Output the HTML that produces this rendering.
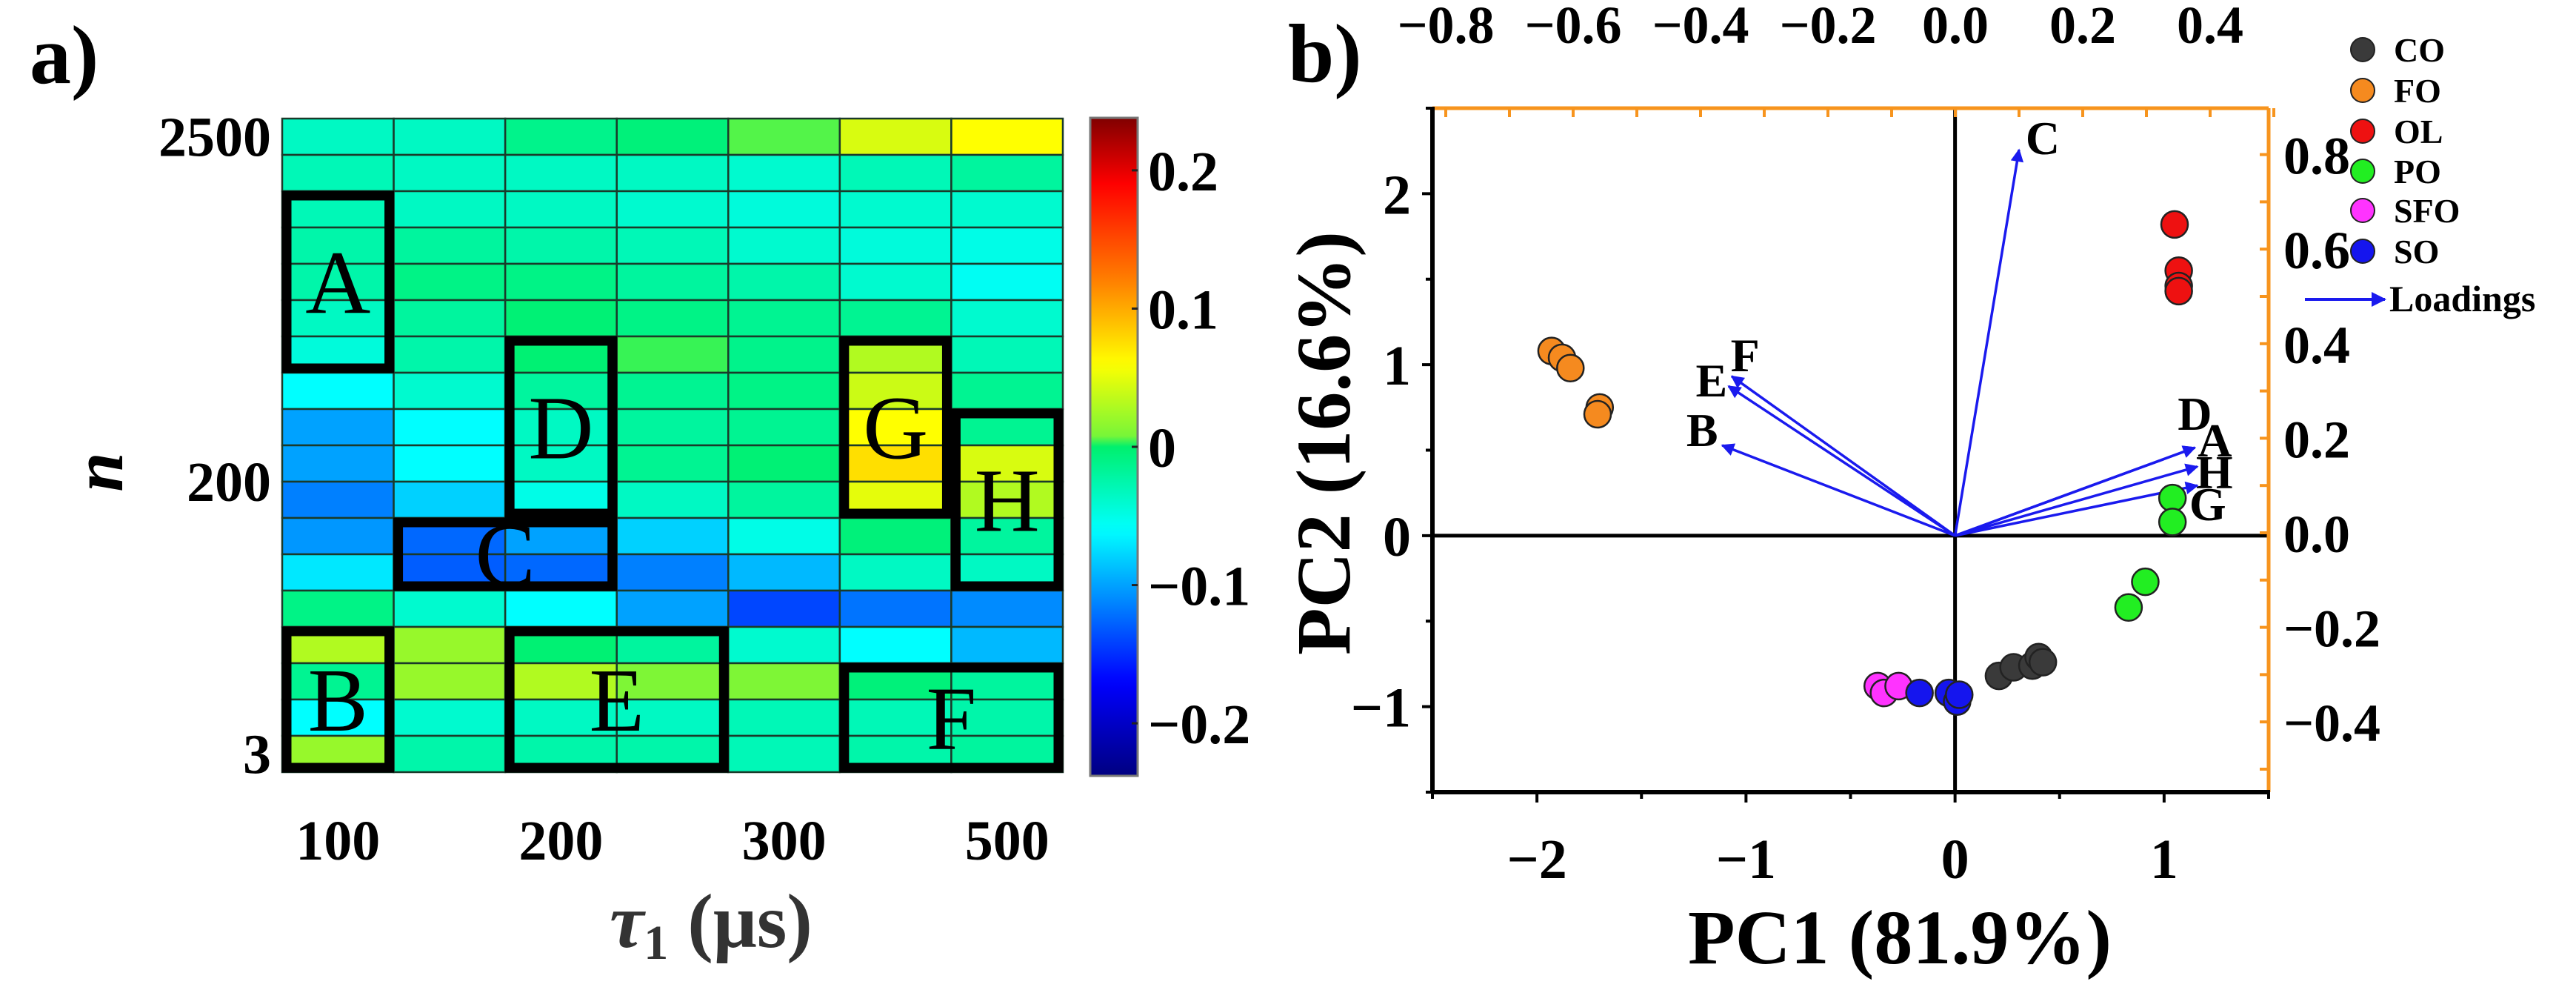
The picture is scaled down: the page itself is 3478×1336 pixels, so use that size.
<!DOCTYPE html>
<html><head><meta charset="utf-8"><style>
html,body{margin:0;padding:0;background:#fff;}
svg{display:block;font-family:"Liberation Serif",serif;}
</style></head><body>
<svg id="fig" width="3478" height="1336" viewBox="0 0 3478 1336" xmlns="http://www.w3.org/2000/svg">
<g id="pa"></g>
<g id="pb"></g>
</svg>
<script>
// ===== Panel a data =====
const tauLabels = ["100","","200","","300","","500"];
const nLabels = ["2500","200","3"];
const nLabelRows = [0, 9.5, 17];
const heatValues = [
[-0.035,-0.035,-0.012,-0.005,0.003,0.045,0.06],
[-0.03,-0.035,-0.035,-0.035,-0.04,-0.03,-0.02],
[-0.03,-0.035,-0.035,-0.04,-0.045,-0.04,-0.04],
[-0.025,-0.02,-0.025,-0.03,-0.04,-0.045,-0.05],
[-0.025,-0.01,-0.01,-0.02,-0.025,-0.04,-0.055],
[-0.035,-0.02,-0.003,-0.01,-0.015,-0.015,-0.04],
[-0.045,-0.025,-0.002,0.002,-0.012,0.03,-0.03],
[-0.06,-0.04,-0.02,-0.015,-0.01,0.04,-0.015],
[-0.1,-0.06,-0.035,-0.02,-0.015,0.06,-0.015],
[-0.1,-0.06,-0.035,-0.015,-0.003,0.075,0.045],
[-0.115,-0.08,-0.05,-0.035,-0.02,0.05,0.03],
[-0.105,-0.125,-0.1,-0.08,-0.05,-0.005,-0.02],
[-0.07,-0.13,-0.125,-0.115,-0.09,-0.035,-0.035],
[-0.01,-0.04,-0.06,-0.1,-0.14,-0.12,-0.11],
[0.03,0.02,-0.002,-0.02,-0.04,-0.06,-0.09],
[-0.015,0.02,0.03,0.01,0.01,-0.005,-0.02],
[-0.06,-0.04,-0.035,-0.035,-0.03,-0.03,-0.025],
[0.02,-0.025,-0.025,-0.025,-0.03,-0.025,-0.02]
];
const cbTicks = [0.2,0.1,0,-0.1,-0.2];
const cbTickLabels = ["0.2","0.1","0","\u22120.1","\u22120.2"];
const boxLabels = ["A","B","C","D","E","F","G","H"];
const boxCols = [[0,0],[0,0],[1,2],[2,2],[2,3],[5,6],[5,5],[6,6]];
const boxRows = [[2,6],[14,17],[11,12],[6,10],[14,17],[15,17],[6,10],[8,12]];

// ===== Panel b data =====
const groups = ["CO","FO","OL","PO","SFO","SO"];
const groupColors = ["#3a3a3a","#f58a1f","#ee1111","#22ee22","#ff33ff","#1515ee"];
const scoreX = [
[0.21,0.28,0.37,0.40,0.42],
[-1.93,-1.88,-1.84,-1.70,-1.71],
[1.05,1.07,1.07,1.07],
[1.04,1.04,0.91,0.83],
[-0.37,-0.34,-0.27],
[-0.17,-0.03,0.01,0.02]
];
const scoreY = [
[-0.82,-0.77,-0.76,-0.71,-0.74],
[1.08,1.04,0.98,0.75,0.71],
[1.82,1.55,1.46,1.43],
[0.22,0.08,-0.27,-0.42],
[-0.88,-0.92,-0.88],
[-0.92,-0.92,-0.97,-0.93]
];
const loadNames = ["C","F","E","B","D","A","H","G"];
const loadX = [0.10,-0.351,-0.356,-0.366,0.376,0.376,0.38,0.38];
const loadY = [0.81,0.331,0.31,0.185,0.18,0.18,0.14,0.10];
const pc1Ticks = [-2,-1,0,1];
const pc1TickLabels = ["\u22122","\u22121","0","1"];
const pc2Ticks = [-1,0,1,2];
const pc2TickLabels = ["\u22121","0","1","2"];
const topTicks = [-0.8,-0.6,-0.4,-0.2,0.0,0.2,0.4];
const topTickLabels = ["\u22120.8","\u22120.6","\u22120.4","\u22120.2","0.0","0.2","0.4"];
const rightTicks = [0.8,0.6,0.4,0.2,0.0,-0.2,-0.4];
const rightTickLabels = ["0.8","0.6","0.4","0.2","0.0","\u22120.2","\u22120.4"];

const NS="http://www.w3.org/2000/svg";
function mk(parent,tag,attrs,text){const e=document.createElementNS(NS,tag);for(const k in attrs)e.setAttribute(k,attrs[k]);if(text!==undefined)e.textContent=text;parent.appendChild(e);return e;}

const cmStops=[[-0.238,[0,0,128]],[-0.17,[0,0,255]],[-0.06,[0,255,255]],[0.0,[0,240,110]],[0.004,[110,245,60]],[0.06,[255,255,0]],[0.12,[255,128,0]],[0.19,[255,0,0]],[0.238,[128,0,0]]];
function cmap(v){
  if(v<=cmStops[0][0])return `rgb(${cmStops[0][1]})`;
  for(let i=1;i<cmStops.length;i++){
    if(v<=cmStops[i][0]){const a=cmStops[i-1],b=cmStops[i];const t=(v-a[0])/(b[0]-a[0]);
      const c=a[1].map((x,j)=>Math.round(x+(b[1][j]-x)*t));return `rgb(${c.join(',')})`;}
  }
  return `rgb(${cmStops[cmStops.length-1][1]})`;
}

// ===== Panel a =====
const pa=document.getElementById('pa');
const hx0=381,hx1=1435,hy0=160,hy1=1042;
const nCols=7,nRows=18;
const cw=(hx1-hx0)/nCols,rh=(hy1-hy0)/nRows;
const colX=c=>hx0+c*cw, rowY=r=>hy0+r*rh;
mk(pa,'text',{x:40,y:112,'font-size':112,'font-weight':'bold',},'a)');
heatValues.forEach((row,r)=>row.forEach((v,c)=>{
  const e=mk(pa,'rect',{x:colX(c),y:rowY(r),width:cw,height:rh,fill:cmap(v),stroke:'#1a3a2a','stroke-width':2.5});
  
  
}));
boxLabels.forEach((lab,i)=>{
  const x0=colX(boxCols[i][0]),x1=colX(boxCols[i][1]+1),y0=rowY(boxRows[i][0]),y1=rowY(boxRows[i][1]+1);
  const g=mk(pa,'g',{});
  
  
  mk(g,'rect',{x:x0+6,y:y0+6,width:x1-x0-12,height:y1-y0-12,fill:'none',stroke:'#000','stroke-width':13});
  mk(g,'text',{x:(x0+x1)/2,y:(y0+y1)/2+42,'text-anchor':'middle','font-size':122},lab);
});
nLabels.forEach((l,i)=>{
  const e=mk(pa,'text',{x:366,y:rowY(nLabelRows[i])+rh/2+26,'text-anchor':'end','font-size':76,'font-weight':'bold'},l);
  
  
});
tauLabels.forEach((l,i)=>{ if(!l)return;
  const e=mk(pa,'text',{x:colX(i)+cw/2,y:1160,'text-anchor':'middle','font-size':76,'font-weight':'bold'},l);
  
  
});
mk(pa,'text',{x:0,y:0,transform:'translate(165,637) rotate(-90)','text-anchor':'middle','font-size':96,'font-weight':'bold','font-style':'italic',},'n');
const xt=mk(pa,'text',{x:960,y:1278,'text-anchor':'middle','font-size':104,'font-weight':'bold',fill:'#333',});
mk(xt,'tspan',{'font-style':'italic'},'\u03c4');
mk(xt,'tspan',{'font-size':66,dy:16},'1');
mk(xt,'tspan',{dy:-16},' (\u03bcs)');
const cbx0=1472,cbx1=1536,cby0=159,cby1=1047,cbMin=-0.238,cbMax=0.238;
const cbY=v=>cby1-(v-cbMin)/(cbMax-cbMin)*(cby1-cby0);
const defs=mk(pa,'defs',{});
const lg=mk(defs,'linearGradient',{id:'cbg',x1:0,y1:1,x2:0,y2:0});
for(let i=0;i<=60;i++){const v=cbMin+(cbMax-cbMin)*i/60;mk(lg,'stop',{offset:i/60,'stop-color':cmap(v)});}
mk(pa,'rect',{x:cbx0,y:cby0,width:cbx1-cbx0,height:cby1-cby0,fill:'url(#cbg)',stroke:'#777','stroke-width':3,});
cbTicks.forEach((t,i)=>{
  mk(pa,'line',{x1:cbx1-8,x2:cbx1,y1:cbY(t),y2:cbY(t),stroke:'#222','stroke-width':3});
  const e=mk(pa,'text',{x:1550,y:cbY(t)+27,'font-size':76,'font-weight':'bold'},cbTickLabels[i]);
  
  
});

// ===== Panel b =====
const pb=document.getElementById('pb');
const bx0=1934,bx1=3063,by0=146,by1=1069;
const X=v=>bx0+(v+2.5)/4*(bx1-bx0);
const Y=v=>by1-(v+1.5)/4*(by1-by0);
const LX=v=>2640+v*860;
const LY=v=>719-v*638;
mk(pb,'text',{x:1739,y:110,'font-size':112,'font-weight':'bold',},'b)');
mk(pb,'line',{x1:bx0,x2:bx1,y1:Y(0),y2:Y(0),stroke:'#000','stroke-width':5,});
mk(pb,'line',{x1:X(0),x2:X(0),y1:by0,y2:by1,stroke:'#000','stroke-width':5,});
const orange='#f7941d';
mk(pb,'line',{x1:bx0,x2:bx1,y1:by0,y2:by0,stroke:orange,'stroke-width':5,});
mk(pb,'line',{x1:bx1,x2:bx1,y1:by0,y2:by1,stroke:orange,'stroke-width':5,});
mk(pb,'line',{x1:bx0,x2:bx0,y1:by0-2,y2:by1+2,stroke:'#000','stroke-width':6,});
mk(pb,'line',{x1:bx0-2,x2:bx1+2,y1:by1,y2:by1,stroke:'#000','stroke-width':6,});
for(let v=-2.5;v<=1.5001;v+=0.5){mk(pb,'line',{x1:X(v),x2:X(v),y1:by1,y2:by1+(Number.isInteger(v)?14:9),stroke:'#000','stroke-width':4});}
for(let v=-1.5;v<=2.5001;v+=0.5){mk(pb,'line',{x1:bx0-(Number.isInteger(v)?14:9),x2:bx0,y1:Y(v),y2:Y(v),stroke:'#000','stroke-width':4});}
for(let v=-0.8;v<=0.5;v+=0.1){mk(pb,'line',{x1:LX(v),x2:LX(v),y1:by0,y2:by0+12,stroke:orange,'stroke-width':4});}
for(let v=-0.5;v<=0.85;v+=0.1){mk(pb,'line',{x1:bx1-12,x2:bx1,y1:LY(v),y2:LY(v),stroke:orange,'stroke-width':4});}
pc1Ticks.forEach((t,i)=>{const e=mk(pb,'text',{x:X(t),y:1185,'text-anchor':'middle','font-size':76,'font-weight':'bold'},pc1TickLabels[i]);
  
  });
pc2Ticks.forEach((t,i)=>{const e=mk(pb,'text',{x:1905,y:Y(t)+27,'text-anchor':'end','font-size':76,'font-weight':'bold'},pc2TickLabels[i]);
  
  });
topTicks.forEach((t,i)=>{const e=mk(pb,'text',{x:LX(t),y:58,'text-anchor':'middle','font-size':72,'font-weight':'bold'},topTickLabels[i]);
  
  });
rightTicks.forEach((t,i)=>{const e=mk(pb,'text',{x:3083,y:LY(t)+26,'font-size':72,'font-weight':'bold'},rightTickLabels[i]);
  
  });
mk(pb,'text',{x:2565,y:1300,'text-anchor':'middle','font-size':104,'font-weight':'bold',},'PC1 (81.9%)');
mk(pb,'text',{x:0,y:0,transform:'translate(1822,598) rotate(-90)','text-anchor':'middle','font-size':104,'font-weight':'bold',},'PC2 (16.6%)');
const d2=mk(pb,'defs',{});
const m=mk(d2,'marker',{id:'ah',viewBox:'0 0 10 10',refX:9,refY:5,markerWidth:6,markerHeight:5,orient:'auto',markerUnits:'strokeWidth'});
mk(m,'path',{d:'M0,0 L10,5 L0,10 z',fill:'#1a1aee'});
const labOff={C:[32,-16],F:[18,-29],E:[-23,-8],B:[-27,-21],D:[0,-46],A:[27,-10],H:[23,7],G:[14,25]};
loadNames.forEach((n,i)=>{
  const l=mk(pb,'line',{x1:X(0),y1:Y(0),x2:LX(loadX[i]),y2:LY(loadY[i]),stroke:'#1a1aee','stroke-width':3.5,'marker-end':'url(#ah)'});
  
  
  const o=labOff[n];
  const t=mk(pb,'text',{x:LX(loadX[i])+o[0],y:LY(loadY[i])+o[1]+22,'text-anchor':'middle','font-size':64,'font-weight':'bold'},n);
  
  
});
groups.forEach((g,gi)=>{
  scoreX[gi].forEach((v,j)=>{
    const c=mk(pb,'circle',{cx:X(v),cy:Y(scoreY[gi][j]),r:18,fill:groupColors[gi],stroke:'#222','stroke-width':2.5});
    
    
  });
});
const legY=[67,122,177,231,284,339];
groups.forEach((g,i)=>{
  const lgEl=mk(pb,'g',{});
  
  
  mk(lgEl,'circle',{cx:3190,cy:legY[i],r:16,fill:groupColors[i],stroke:'#222','stroke-width':2});
  mk(lgEl,'text',{x:3232,y:legY[i]+16,'font-size':46,'font-weight':'bold'},g);
});
const lgL=mk(pb,'g',{});
mk(lgL,'line',{x1:3112,x2:3220,y1:404,y2:404,stroke:'#1a1aee','stroke-width':4,'marker-end':'url(#ah)'});
mk(lgL,'text',{x:3226,y:420,'font-size':50,'font-weight':'bold'},'Loadings');
</script>
</body></html>
